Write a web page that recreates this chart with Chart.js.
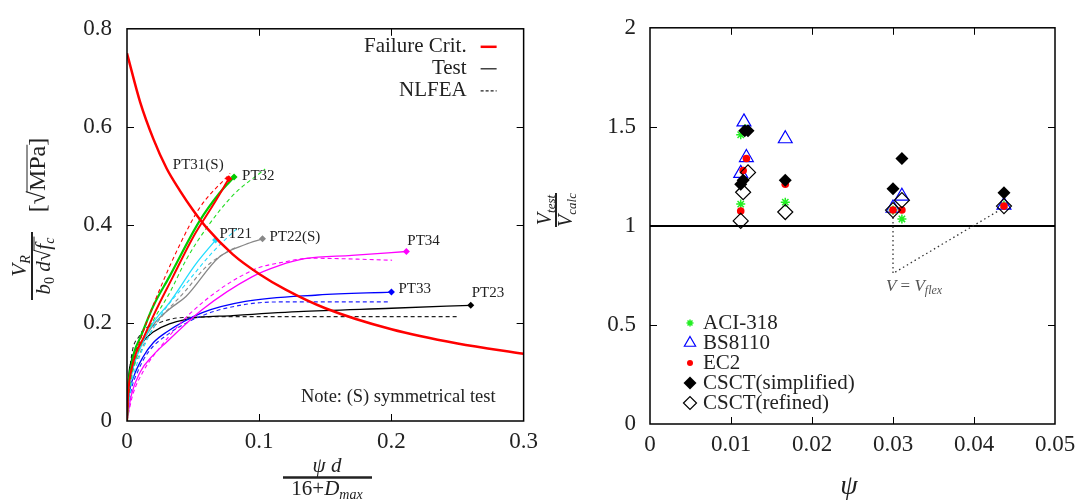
<!DOCTYPE html>
<html>
<head>
<meta charset="utf-8">
<script src="https://cdn.jsdelivr.net/npm/chart.js@4.4.0/dist/chart.umd.min.js"></script>
<style>
  html, body { margin: 0; padding: 0; background: #fff; }
  #left { position: absolute; left: 0; top: 0; width: 545px; height: 504px; }
  #right { position: absolute; left: 530px; top: 0; width: 554px; height: 504px; }
</style>
</head>
<body>
<div id="right"><canvas id="c2"></canvas></div>
<div id="left"><canvas id="c1"></canvas></div>
<script>
// ---- left panel: [x, y] pairs ----
const failureCrit = [[0, 0.75], [0.01, 0.65], [0.02, 0.575], [0.03, 0.515], [0.04, 0.47], [0.05, 0.43],
  [0.06, 0.395], [0.08, 0.34], [0.1, 0.3], [0.12, 0.268], [0.15, 0.23], [0.2, 0.187], [0.25, 0.158], [0.3, 0.137]];

const pt31Test = [[0, 0], [0.001, 0.06], [0.003, 0.1], [0.007, 0.14], [0.0122, 0.168], [0.02, 0.215], [0.0347, 0.294], [0.05, 0.375], [0.065, 0.44], [0.077, 0.494]];
const pt31Fea = [[0, 0], [0.002, 0.08], [0.006, 0.13], [0.012, 0.18], [0.025, 0.27], [0.04, 0.36], [0.055, 0.435], [0.078, 0.505]];
const pt32Test = [[0, 0], [0.001, 0.07], [0.003, 0.11], [0.006, 0.145], [0.0097, 0.168], [0.02, 0.235], [0.032, 0.294], [0.0546, 0.4066], [0.07, 0.465], [0.081, 0.4975]];
const pt32Fea = [[0, 0], [0.002, 0.07], [0.006, 0.12], [0.012, 0.165], [0.022, 0.215], [0.032, 0.26], [0.045, 0.33], [0.06, 0.393], [0.08, 0.46], [0.1045, 0.514]];
const pt21Test = [[0, 0], [0.002, 0.07], [0.006, 0.12], [0.012, 0.16], [0.0197, 0.2], [0.032, 0.241], [0.052, 0.32], [0.067, 0.369]];
const pt21Fea = [[0, 0], [0.003, 0.07], [0.008, 0.12], [0.016, 0.17], [0.028, 0.225], [0.0447, 0.28], [0.065, 0.345], [0.0833, 0.393]];
const pt22Test = [[0, 0], [0.002, 0.07], [0.007, 0.13], [0.0197, 0.195], [0.032, 0.228], [0.0446, 0.254], [0.0696, 0.334], [0.0895, 0.36], [0.1025, 0.3715]];
const pt22Fea = [[0, 0], [0.003, 0.08], [0.01, 0.14], [0.02, 0.19], [0.0447, 0.267], [0.06, 0.315], [0.077, 0.347], [0.083, 0.355]];
const pt34Test = [[0, 0], [0.003, 0.05], [0.01, 0.1], [0.02, 0.135], [0.03, 0.161], [0.057, 0.2275], [0.0945, 0.294], [0.115, 0.317], [0.1344, 0.331], [0.17, 0.338], [0.2113, 0.3457]];
const pt34Fea = [[0, 0], [0.004, 0.05], [0.012, 0.1], [0.025, 0.15], [0.05, 0.225], [0.0945, 0.307], [0.12, 0.325], [0.139, 0.332], [0.2005, 0.328]];
const pt33Test = [[0, 0], [0.002, 0.06], [0.005, 0.09], [0.012, 0.13], [0.02, 0.16], [0.0297, 0.181], [0.057, 0.221], [0.0895, 0.244], [0.1444, 0.257], [0.2, 0.263]];
const pt33Fea = [[0, 0], [0.003, 0.06], [0.008, 0.1], [0.016, 0.14], [0.03, 0.175], [0.057, 0.215], [0.09, 0.238], [0.12, 0.243], [0.198, 0.243]];
const pt23Test = [[0, 0], [0.001, 0.08], [0.003, 0.12], [0.01, 0.155], [0.0195, 0.181], [0.0446, 0.2075], [0.08, 0.215], [0.1295, 0.223], [0.2, 0.23], [0.26, 0.236]];
const pt23Fea = [[0, 0], [0.002, 0.1], [0.0097, 0.175], [0.02, 0.195], [0.042, 0.211], [0.1, 0.213], [0.2504, 0.213]];

const ptNames = ['PT31(S)', 'PT32', 'PT21', 'PT22(S)', 'PT34', 'PT33', 'PT23'];

// ---- right panel: psi and V_test/V_calc ----
const aciPsi = [0.0112, 0.0118, 0.0112, 0.0167, 0.0300, 0.0311, 0.0437];
const aciRatio = [1.46, 1.49, 1.11, 1.12, 1.08, 1.035, 1.105];
const bsPsi = [0.0116, 0.0119, 0.0112, 0.0167, 0.0300, 0.0311, 0.0437];
const bsRatio = [1.525, 1.345, 1.265, 1.44, 1.09, 1.15, 1.105];
const ec2Psi = [0.0119, 0.0115, 0.0112, 0.0167, 0.0300, 0.0311, 0.0437];
const ec2Ratio = [1.34, 1.28, 1.075, 1.21, 1.08, 1.08, 1.10];
const csctSPsi = [0.0117, 0.0121, 0.0112, 0.0115, 0.0167, 0.0300, 0.0311, 0.0437];
const csctSRatio = [1.48, 1.48, 1.21, 1.23, 1.23, 1.187, 1.34, 1.167];
const csctRPsi = [0.0121, 0.0115, 0.0112, 0.0167, 0.0300, 0.0311, 0.0437];
const csctRRatio = [1.27, 1.17, 1.025, 1.07, 1.08, 1.13, 1.10];
const vflexPath = [[0.0300, 1.065], [0.0300, 0.76], [0.0431, 1.078]];

const SERIF = '"Liberation Serif", "DejaVu Serif", serif';
const INK = '#222';

function fnt(size, it) { return (it ? 'italic ' : '') + size + 'px ' + SERIF; }

// draws pieces [text, size, italic, dy] in a row, returns x extents of each piece
function drawRuns(ctx, parts, x, y, align) {
  ctx.textAlign = 'left';
  let w = 0;
  parts.forEach(p => { ctx.font = fnt(p[1], p[2]); w += ctx.measureText(p[0]).width; });
  let cx = align === 'center' ? x - w / 2 : (align === 'right' ? x - w : x);
  const xs = [];
  parts.forEach(p => {
    ctx.font = fnt(p[1], p[2]);
    ctx.fillText(p[0], cx, y + (p[3] || 0));
    const pw = ctx.measureText(p[0]).width;
    xs.push([cx, cx + pw]);
    cx += pw;
  });
  return xs;
}

function hline(ctx, x1, x2, y, w) {
  ctx.beginPath(); ctx.lineWidth = w; ctx.moveTo(x1, y); ctx.lineTo(x2, y); ctx.stroke();
}

// box around the plot with inward ticks on all four sides
function drawFrame(chart) {
  const { ctx, chartArea: a, scales: { x, y } } = chart;
  const eps = 1e-9;
  ctx.save();
  ctx.strokeStyle = '#000';
  ctx.lineWidth = 1;
  ctx.beginPath();
  x.ticks.forEach(t => {
    if (t.value <= x.min + eps || t.value >= x.max - eps) return;
    const px = Math.round(x.getPixelForValue(t.value)) + 0.5;
    ctx.moveTo(px, a.bottom); ctx.lineTo(px, a.bottom - 7);
    ctx.moveTo(px, a.top); ctx.lineTo(px, a.top + 7);
  });
  y.ticks.forEach(t => {
    if (t.value <= y.min + eps || t.value >= y.max - eps) return;
    const py = Math.round(y.getPixelForValue(t.value)) + 0.5;
    ctx.moveTo(a.left, py); ctx.lineTo(a.left + 7, py);
    ctx.moveTo(a.right, py); ctx.lineTo(a.right - 7, py);
  });
  ctx.stroke();
  ctx.lineWidth = 1.5;
  ctx.strokeRect(a.left, a.top, a.right - a.left, a.bottom - a.top);
  ctx.restore();
}

function pts(arr) { return arr.map(p => ({ x: p[0], y: p[1] })); }
function zip(xs, ys) { return xs.map((v, i) => ({ x: v, y: ys[i] })); }

function curve(arr, color, width, dashed, marker) {
  return {
    data: pts(arr),
    showLine: true,
    borderColor: color,
    backgroundColor: color,
    borderWidth: width,
    borderDash: dashed ? [4, 3] : [],
    cubicInterpolationMode: 'monotone',
    pointStyle: 'rectRot',
    pointBorderWidth: 0,
    pointRadius: c => (marker && c.dataIndex === arr.length - 1) ? 3.5 : 0
  };
}

const leftDecor = {
  id: 'leftDecor',
  afterDraw(chart) {
    const { ctx, chartArea: a, scales: { x, y } } = chart;
    drawFrame(chart);
    ctx.save();
    ctx.fillStyle = INK;
    ctx.strokeStyle = INK;
    ctx.textBaseline = 'middle';

    // legend top right
    const rows = [['Failure Crit.', '#ff0000', 2.5, []], ['Test', '#222', 1.3, []], ['NLFEA', '#222', 1.2, [3, 2]]];
    rows.forEach((r, i) => {
      const ry = a.top + 18 + i * 22;
      ctx.font = fnt(21);
      ctx.textAlign = 'right';
      ctx.fillStyle = INK;
      ctx.fillText(r[0], a.right - 57, ry);
      ctx.save();
      ctx.strokeStyle = r[1];
      ctx.setLineDash(r[3]);
      hline(ctx, a.right - 43, a.right - 27, ry, r[2]);
      ctx.restore();
    });

    // specimen labels
    const ends = [pt31Test, pt32Test, pt21Test, pt22Test, pt34Test, pt33Test, pt23Test];
    const offs = [[-56, 0.028], [8, 0.002], [4, 0.012], [7, 0.003], [1, 0.022], [7, 0.006], [1, 0.024]];
    ctx.font = fnt(15);
    ctx.textAlign = 'left';
    ptNames.forEach((n, i) => {
      const e = ends[i][ends[i].length - 1];
      ctx.fillText(n, x.getPixelForValue(e[0]) + offs[i][0], y.getPixelForValue(e[1] + offs[i][1]));
    });

    // note
    ctx.font = fnt(18.5);
    ctx.textAlign = 'right';
    ctx.fillText('Note: (S) symmetrical test', a.right - 28, a.bottom - 24);

    // y title, rotated
    ctx.textBaseline = 'alphabetic';
    ctx.save();
    ctx.translate(32, 266);
    ctx.rotate(-Math.PI / 2);
    drawRuns(ctx, [['V', 21, true], ['R', 14, true, 4]], 0, -6, 'center');
    hline(ctx, -34, 34, 0, 2);
    const d = drawRuns(ctx, [['b', 21, true], ['0', 14, false, 4], [' d', 21, true], ['\u221A', 21], ['f', 21, true], ['c', 14, true, 4]], 0, 18, 'center');
    hline(ctx, d[3][1] - 1, d[5][1] + 1, 2, 1);
    const u = drawRuns(ctx, [['[', 24], ['\u221A', 24], ['MPa', 24], [']', 24]], 91, 13, 'center');
    hline(ctx, u[1][1] - 1, u[2][1] + 1, -5, 1);
    ctx.restore();

    // x title
    drawRuns(ctx, [['\u03C8', 21, true], [' d', 21, true]], 327, 472, 'center');
    hline(ctx, 283, 372, 477.5, 2.5);
    drawRuns(ctx, [['16+', 21], ['D', 21, true], ['max', 14, true, 4]], 327, 495, 'center');
    ctx.restore();
  }
};

const tickFont = { family: SERIF, size: 23 };

new Chart('c1', {
  type: 'scatter',
  data: {
    datasets: [
      curve(failureCrit, '#ff0000', 2.5, false, false),
      curve(pt31Test, '#ff0000', 2, false, true),
      curve(pt31Fea, '#ff0000', 1.1, true, false),
      curve(pt32Test, '#00cc00', 2.2, false, true),
      curve(pt32Fea, '#22dd22', 1.1, true, false),
      curve(pt21Test, '#22ddff', 1.3, false, true),
      curve(pt21Fea, '#22ddff', 1.1, true, false),
      curve(pt22Test, '#888888', 1.3, false, true),
      curve(pt22Fea, '#888888', 1.1, true, false),
      curve(pt34Test, '#ff00ff', 1.3, false, true),
      curve(pt34Fea, '#ff00ff', 1.1, true, false),
      curve(pt33Test, '#0000ff', 1.3, false, true),
      curve(pt33Fea, '#2222ff', 1.1, true, false),
      curve(pt23Test, '#000000', 1.3, false, true),
      curve(pt23Fea, '#222222', 1.1, true, false)
    ]
  },
  options: {
    animation: false,
    responsive: true,
    maintainAspectRatio: false,
    events: [],
    layout: { padding: { left: 0, right: 17, top: 19, bottom: 0 } },
    plugins: { legend: { display: false }, tooltip: { enabled: false } },
    scales: {
      x: {
        type: 'linear', min: 0, max: 0.3,
        afterFit: s => { s.height = 83; },
        grid: { display: false, drawTicks: false },
        border: { display: false },
        ticks: { stepSize: 0.1, padding: 7, color: INK, font: tickFont, maxRotation: 0,
          callback: v => String(+v.toFixed(2)) }
      },
      y: {
        min: 0, max: 0.8,
        afterFit: s => { s.width = 127; },
        grid: { display: false, drawTicks: false },
        border: { display: false },
        ticks: { stepSize: 0.2, padding: 15, color: INK, font: tickFont,
          callback: v => String(+v.toFixed(2)) }
      }
    }
  },
  plugins: [leftDecor]
});

// ---- right panel ----
const markers = [
  { label: 'ACI-318', style: 'star', r: 4.5, fill: 'rgba(0,0,0,0)', stroke: '#22ee22', bw: 1.5 },
  { label: 'BS8110', style: 'triangle', r: 8, fill: 'rgba(0,0,0,0)', stroke: '#0000ff', bw: 1.2 },
  { label: 'EC2', style: 'circle', r: 3.8, fill: '#ff0000', stroke: '#ff0000', bw: 0 },
  { label: 'CSCT(simplified)', style: 'rectRot', r: 6.5, fill: '#000000', stroke: '#000000', bw: 0 },
  { label: 'CSCT(refined)', style: 'rectRot', r: 7.5, fill: 'rgba(0,0,0,0)', stroke: '#000000', bw: 1.2 }
];
const seriesData = [zip(aciPsi, aciRatio), zip(bsPsi, bsRatio), zip(ec2Psi, ec2Ratio), zip(csctSPsi, csctSRatio), zip(csctRPsi, csctRRatio)];

function drawMarker(ctx, m, px, py) {
  ctx.save();
  ctx.fillStyle = m.fill;
  ctx.strokeStyle = m.stroke;
  ctx.lineWidth = m.bw || 1;
  Chart.helpers.drawPoint(ctx, { pointStyle: m.style, radius: m.r, rotation: 0, borderWidth: m.bw }, px, py);
  ctx.restore();
}

const rightDecor = {
  id: 'rightDecor',
  afterDraw(chart) {
    const { ctx, chartArea: a, scales: { x, y } } = chart;
    drawFrame(chart);
    ctx.save();
    ctx.fillStyle = INK;
    ctx.strokeStyle = INK;

    // legend bottom left
    ctx.textBaseline = 'middle';
    markers.forEach((m, i) => {
      const ry = a.bottom - 101 + i * 20;
      drawMarker(ctx, Object.assign({}, m, { r: m.style === 'star' ? 3.5 : (m.style === 'circle' ? 3 : 6.5) }), a.left + 40, ry);
      ctx.fillStyle = INK;
      ctx.font = fnt(21);
      ctx.textAlign = 'left';
      ctx.fillText(m.label, a.left + 53, ry);
    });

    // V = V_flex note
    ctx.textBaseline = 'alphabetic';
    ctx.fillStyle = '#555';
    drawRuns(ctx, [['V', 17, true], [' = ', 17], ['V', 17, true], ['flex', 12, true, 3]], x.getPixelForValue(0.0326), y.getPixelForValue(0.67), 'center');

    // y title
    ctx.fillStyle = INK;
    ctx.strokeStyle = INK;
    ctx.save();
    ctx.translate(26, 210);
    ctx.rotate(-Math.PI / 2);
    drawRuns(ctx, [['V', 20, true], ['test', 13, true, 4]], 0, -5, 'center');
    hline(ctx, -17, 17, 0, 2);
    drawRuns(ctx, [['V', 20, true], ['calc', 13, true, 4]], 0, 16, 'center');
    ctx.restore();

    // x title
    ctx.font = fnt(28, true);
    ctx.textAlign = 'center';
    ctx.fillText('\u03C8', 319, 494);
    ctx.restore();
  }
};

new Chart('c2', {
  type: 'scatter',
  data: {
    datasets: markers.map((m, i) => ({
      data: seriesData[i],
      pointStyle: m.style,
      pointRadius: m.r,
      pointBackgroundColor: m.fill,
      pointBorderColor: m.stroke,
      pointBorderWidth: m.bw,
      order: 5 - i
    })).concat([
      { data: pts([[0, 1], [0.05, 1]]), showLine: true, borderColor: '#000', borderWidth: 2, pointRadius: 0, order: 10 },
      { data: pts(vflexPath), showLine: true, borderColor: '#333', borderWidth: 1.3, borderDash: [1.5, 3], pointRadius: 0, order: 9 }
    ])
  },
  options: {
    animation: false,
    responsive: true,
    maintainAspectRatio: false,
    events: [],
    layout: { padding: { left: 0, right: 29, top: 24, bottom: 0 } },
    plugins: { legend: { display: false }, tooltip: { enabled: false } },
    scales: {
      x: {
        type: 'linear', min: 0, max: 0.05,
        afterFit: s => { s.height = 80; },
        grid: { display: false, drawTicks: false },
        border: { display: false },
        ticks: { stepSize: 0.01, padding: 7, color: INK, font: tickFont, maxRotation: 0,
          callback: v => String(+v.toFixed(3)) }
      },
      y: {
        min: 0, max: 2,
        afterFit: s => { s.width = 120; },
        grid: { display: false, drawTicks: false },
        border: { display: false },
        ticks: { stepSize: 0.5, padding: 14, color: INK, font: tickFont,
          callback: v => String(+v.toFixed(2)) }
      }
    }
  },
  plugins: [rightDecor]
});
</script>
</body>
</html>
